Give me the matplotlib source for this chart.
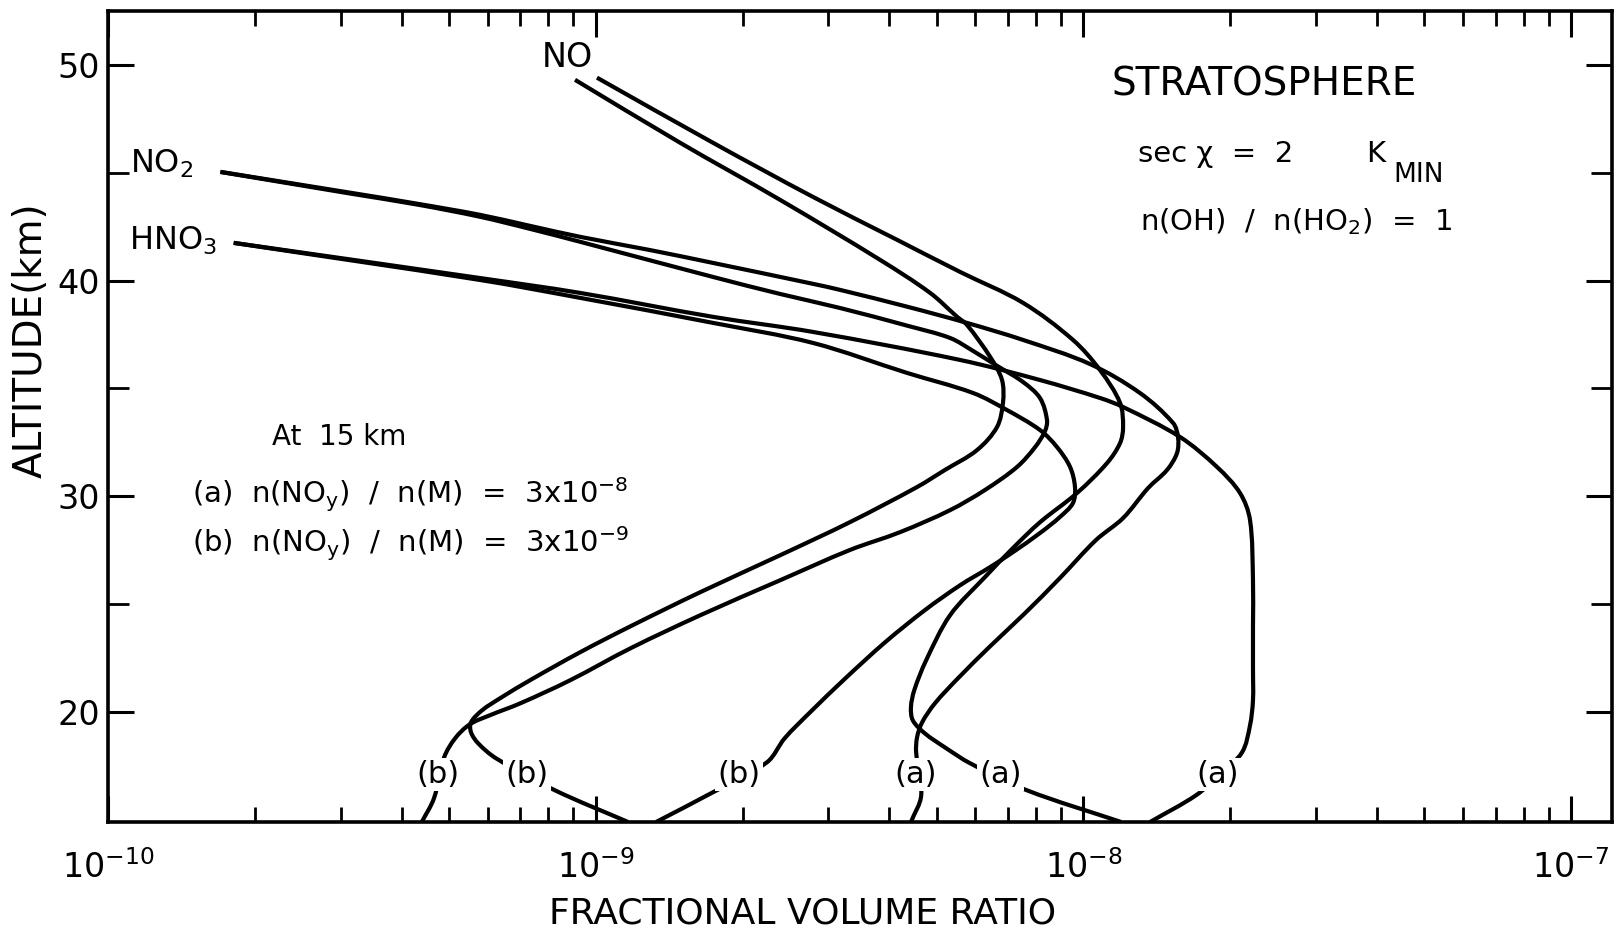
import matplotlib
matplotlib.use("Agg")
import numpy as np
import matplotlib.pyplot as plt
from matplotlib.ticker import NullFormatter, FixedLocator, LogFormatterSciNotation
from matplotlib.path import Path
from matplotlib.patches import PathPatch

# ---------------- data (fractional volume ratio, altitude km) ----------------
no_b_x = [9.07e-10, 1.49e-9, 2.39e-9, 3.83e-9, 4.85e-9, 5.51e-9, 5.77e-9, 6.44e-9, 6.81e-9,
          6.84e-9, 6.65e-9, 6.05e-9, 5.20e-9, 4.56e-9, 3.32e-9, 2.39e-9, 1.64e-9, 1.18e-9,
          9.29e-10, 7.33e-10, 6.37e-10, 5.85e-10, 5.55e-10, 5.55e-10, 5.74e-10, 6.25e-10,
          8.25e-10, 1.165e-9]
no_b_z = [49.31, 46.39, 43.74, 40.96, 39.43, 38.32, 37.95, 36.46, 35.39,
          34.33, 33.21, 32.14, 31.22, 30.43, 28.80, 27.27, 25.56, 23.98,
          22.77, 21.47, 20.64, 20.08, 19.52, 19.06, 18.55, 17.85,
          16.37, 14.9]

no_a_x = [1.006e-9, 1.74e-9, 2.79e-9, 4.15e-9, 5.59e-9, 7.52e-9, 9.52e-9, 1.081e-8, 1.189e-8,
          1.206e-8, 1.189e-8, 1.118e-8, 9.70e-9, 8.15e-9, 7.17e-9, 6.28e-9, 5.33e-9, 4.76e-9,
          4.50e-9, 4.43e-9, 4.47e-9, 4.73e-9, 5.20e-9, 5.86e-9, 7.66e-9, 1.195e-8]
no_a_z = [49.41, 46.39, 43.88, 41.89, 40.40, 38.97, 37.25, 35.86, 34.33,
          33.21, 32.47, 31.54, 30.15, 28.80, 27.60, 26.25, 24.49, 22.40,
          21.01, 20.22, 19.61, 19.01, 18.36, 17.62, 16.37, 14.9]

no2_a_x = [1.70e-10, 3.15e-10, 4.32e-10, 5.79e-10, 7.33e-10, 9.29e-10, 1.29e-9, 1.74e-9, 2.79e-9,
           3.17e-9, 4.37e-9, 5.77e-9, 7.52e-9, 1.032e-8, 1.306e-8, 1.527e-8, 1.563e-8,
           1.556e-8, 1.484e-8, 1.357e-8, 1.206e-8, 1.061e-8, 8.95e-9, 7.59e-9, 6.44e-9,
           5.53e-9, 4.96e-9, 4.67e-9, 4.56e-9, 4.54e-9, 4.65e-9, 4.43e-9]
no2_a_z = [45.04, 44.07, 43.56, 43.05, 42.54, 42.03, 41.42, 40.82, 39.85,
           39.57, 38.78, 38.04, 37.25, 36.13, 34.79, 33.40, 32.75,
           32.01, 31.22, 30.38, 28.99, 27.97, 26.21, 24.58, 23.05,
           21.56, 20.40, 19.52, 18.83, 18.13, 16.14, 14.9]

no2_b_x = [1.70e-10, 3.15e-10, 4.32e-10, 5.79e-10, 7.33e-10, 9.29e-10, 1.74e-9, 2.39e-9,
           3.17e-9, 4.37e-9, 5.33e-9, 5.94e-9, 6.65e-9, 7.52e-9, 8.15e-9, 8.42e-9, 8.34e-9,
           7.96e-9, 7.31e-9, 6.28e-9, 5.33e-9, 4.21e-9, 3.32e-9, 2.39e-9, 1.64e-9, 1.18e-9,
           8.86e-10, 7.00e-10, 6.07e-10, 5.52e-10, 5.15e-10, 4.89e-10, 4.66e-10, 4.40e-10]
no2_b_z = [45.04, 44.03, 43.52, 42.96, 42.40, 41.80, 40.17, 39.38,
           38.73, 37.90, 37.34, 36.74, 36.05, 35.30, 34.55, 33.54, 33.02,
           32.28, 31.36, 30.29, 29.36, 28.34, 27.51, 26.11, 24.49, 22.96,
           21.47, 20.40, 19.85, 19.43, 18.78, 17.90, 16.00, 14.9]

hno3_a_x = [1.81e-10, 5.79e-10, 9.29e-10, 1.74e-9, 2.79e-9, 5.59e-9, 8.15e-9, 1.081e-8, 1.206e-8,
            1.578e-8, 1.879e-8, 2.095e-8, 2.196e-8, 2.227e-8, 2.227e-8, 2.227e-8, 2.227e-8,
            2.196e-8, 2.115e-8, 1.906e-8, 1.702e-8, 1.370e-8]
hno3_a_z = [41.75, 40.12, 39.43, 38.32, 37.62, 36.32, 35.39, 34.56, 34.14,
            32.75, 31.36, 30.15, 28.90, 26.11, 24.0, 22.0, 20.55,
            19.38, 18.13, 17.11, 16.14, 14.9]

hno3_b_x = [1.81e-10, 5.79e-10, 9.29e-10, 1.74e-9, 2.79e-9, 4.35e-9, 5.94e-9, 6.97e-9, 8.15e-9,
            8.83e-9, 9.39e-9, 9.61e-9, 9.52e-9, 8.95e-9, 8.15e-9, 7.17e-9, 6.44e-9, 5.59e-9,
            4.73e-9, 3.92e-9, 3.25e-9, 2.75e-9, 2.44e-9, 2.245e-9, 1.74e-9, 1.33e-9]
hno3_b_z = [41.75, 40.03, 39.20, 38.04, 37.11, 35.72, 34.79, 34.00, 33.07,
            32.28, 31.36, 30.43, 29.69, 29.04, 28.30, 27.41, 26.72, 25.88,
            24.72, 23.23, 21.56, 19.98, 18.78, 17.67, 16.28, 14.9]

curves = [(no_b_x, no_b_z), (no_a_x, no_a_z), (no2_a_x, no2_a_z),
          (no2_b_x, no2_b_z), (hno3_a_x, hno3_a_z), (hno3_b_x, hno3_b_z)]

# curve tags near 17 km
tag_text = ["(b)", "(b)", "(b)", "(a)", "(a)", "(a)"]
tag_x = [4.75e-10, 7.23e-10, 1.967e-9, 4.52e-9, 6.75e-9, 1.888e-8]
tag_z = [17.11, 17.11, 17.11, 17.11, 17.11, 17.11]

x_major = [1e-10, 1e-9, 1e-8, 1e-7]
x_minor = [m * d for d in (1e-10, 1e-9, 1e-8) for m in range(2, 10)]
y_major = [20, 30, 40, 50]
y_minor = [25, 35, 45]

XLIM = (1e-10, 1.213e-7)
YLIM = (14.9, 52.5)

# ---------------- figure ----------------
W, H = 1622, 932
fig = plt.figure(figsize=(W / 100, H / 100), dpi=100)
ax_rect = [108 / W, 1 - 822 / H, (1612 - 108) / W, (822 - 11) / H]
ax = fig.add_axes(ax_rect)

# aspect of the plot box: km per decade on screen (used only for smooth drawing)
px_per_dec = ax_rect[2] * W / np.log10(XLIM[1] / XLIM[0])
px_per_km = ax_rect[3] * H / (YLIM[1] - YLIM[0])
ASPECT = px_per_dec / px_per_km


def smooth_path(xs, zs):
    """Smooth cubic path through the read points (drawn in data coords)."""
    P = np.column_stack([np.log10(xs) * ASPECT, np.asarray(zs, float)])
    n = len(P)
    d = np.hypot(*np.diff(P, axis=0).T)
    T = np.zeros_like(P)
    T[0] = (P[1] - P[0]) / d[0]
    T[-1] = (P[-1] - P[-2]) / d[-1]
    for i in range(1, n - 1):
        T[i] = (P[i + 1] - P[i - 1]) / (d[i - 1] + d[i])
    verts = [P[0]]
    codes = [Path.MOVETO]
    for i in range(n - 1):
        verts += [P[i] + T[i] * d[i] / 3, P[i + 1] - T[i + 1] * d[i] / 3, P[i + 1]]
        codes += [Path.CURVE4] * 3
    V = np.array(verts)
    V[:, 0] = 10 ** (V[:, 0] / ASPECT)
    return Path(V, codes)


ax.set_xscale("log")
ax.set_xlim(*XLIM)
ax.set_ylim(*YLIM)

for xs, zs in curves:
    ax.add_patch(PathPatch(smooth_path(xs, zs), facecolor="none", edgecolor="black",
                           lw=3.0, capstyle="butt", zorder=2))

ax.xaxis.set_major_locator(FixedLocator(x_major))
ax.xaxis.set_major_formatter(LogFormatterSciNotation(base=10))
ax.xaxis.set_minor_locator(FixedLocator(x_minor))
ax.xaxis.set_minor_formatter(NullFormatter())
ax.yaxis.set_major_locator(FixedLocator(y_major))
ax.yaxis.set_minor_locator(FixedLocator(y_minor))

for s in ax.spines.values():
    s.set_linewidth(2.6)

ax.tick_params(axis="x", which="major", direction="in", top=True, bottom=True,
               length=19, width=2.2, labelsize=24, pad=20)
ax.tick_params(axis="x", which="minor", direction="in", top=True, bottom=True,
               length=11, width=2.0)
ax.tick_params(axis="y", which="major", direction="in", left=True, right=True,
               length=19, width=2.2, labelsize=24, pad=6)
ax.tick_params(axis="y", which="minor", direction="in", left=True, right=True,
               length=15, width=2.0)

# curve tags with white background (breaks the line like in the original)
for t, x, z in zip(tag_text, tag_x, tag_z):
    ax.text(x, z, t, fontsize=22, ha="center", va="center", zorder=5,
            bbox=dict(facecolor="white", edgecolor="none", pad=1.5))


def ftext(px, py, s, **kw):
    fig.text(px / W, 1 - py / H, s, **kw)


# species labels
ftext(542, 67, "NO", fontsize=24, ha="left", va="baseline")
ftext(130, 173, "NO$_2$", fontsize=23, ha="left", va="baseline")
ftext(129, 250, "HNO$_3$", fontsize=23, ha="left", va="baseline")

# annotations
ftext(1264, 95, "STRATOSPHERE", fontsize=28, ha="center", va="baseline")
ftext(1138, 162, "sec χ  =  2", fontsize=21, ha="left", va="baseline")
ftext(1366, 162, "K", fontsize=21, ha="left", va="baseline")
ftext(1393, 182, "MIN", fontsize=19, ha="left", va="baseline")
ftext(1140, 230, r"n(OH)  /  n(HO$_2$)  =  1", fontsize=21, ha="left", va="baseline")

ftext(272, 445, "At  15 km", fontsize=20, ha="left", va="baseline")
ftext(192, 503, r"(a)  n(NO$_\mathrm{y}$)  /  n(M)  =  3x10$^{-8}$", fontsize=21,
      ha="left", va="baseline")
ftext(192, 552, r"(b)  n(NO$_\mathrm{y}$)  /  n(M)  =  3x10$^{-9}$", fontsize=21,
      ha="left", va="baseline")

# axis titles
ftext(803, 913, "FRACTIONAL VOLUME RATIO", fontsize=26, ha="center", va="center")
ftext(31, 340, "ALTITUDE(km)", fontsize=28, ha="center", va="center", rotation=90)

fig.savefig("out.png", dpi=100)
